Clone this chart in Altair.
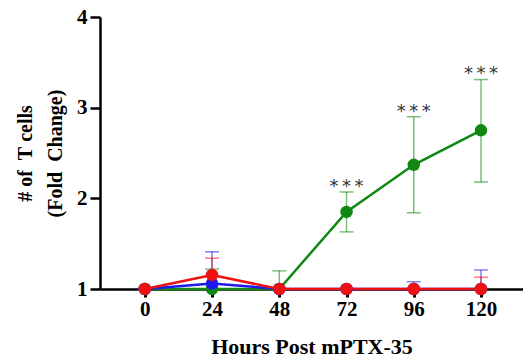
import altair as alt
import pandas as pd

hours = [0, 24, 48, 72, 96, 120]
green_mean = [1.0, 1.0, 1.0, 1.85, 2.37, 2.75]
green_up = [1.0, 1.22, 1.2, 2.07, 2.90, 3.31]
green_lo = [1.0, 1.0, 1.0, 1.63, 1.84, 2.18]
blue_mean = [1.0, 1.06, 1.0, 1.0, 1.0, 1.0]
blue_up = [1.0, 1.41, 1.0, 1.0, 1.08, 1.21]
blue_lo = [1.0, 1.0, 1.0, 1.0, 1.0, 1.0]
red_mean = [1.0, 1.155, 1.0, 1.0, 1.0, 1.0]
red_up = [1.0, 1.34, 1.0, 1.0, 1.0, 1.13]
red_lo = [1.0, 1.0, 1.0, 1.0, 1.0, 1.0]
star_hours = [72, 96, 120]
star_text = ["*\u2009*\u2009*", "*\u2009*\u2009*", "*\u2009*\u2009*"]

series = [
    ("green", "#118811", green_mean, green_up, green_lo),
    ("blue", "#1a1aee", blue_mean, blue_up, blue_lo),
    ("red", "#ee1111", red_mean, red_up, red_lo),
]

rows = []
for i, (name, col, m, u, l) in enumerate(series):
    for h, mv, uv, lv in zip(hours, m, u, l):
        rows.append({"group": name, "order": i, "h": h, "m": mv, "u": uv, "l": lv})
df = pd.DataFrame(rows)

stars = pd.DataFrame({
    "h": star_hours,
    "t": star_text,
    "m": [green_up[hours.index(h)] + 0.1 for h in star_hours],
})

xs = alt.Scale(domain=[-16, 135], nice=False, zero=False)
ys = alt.Scale(domain=[1, 4], nice=False, zero=False)

FONT = "Liberation Serif"
NB = "\u00a0"

XAX = alt.Axis(
    values=hours, title="Hours Post mPTX-35", grid=False, gridOpacity=0,
    domainColor="black", domainWidth=2.5, tickColor="black", tickWidth=3, tickSize=8,
    labelFont=FONT, labelFontSize=21, labelFontWeight="bold", labelColor="black",
    labelPadding=1, titleFont=FONT, titleFontSize=22, titleFontWeight="bold",
    titleColor="black", titlePadding=17)
YAX = alt.Axis(
    values=[1, 2, 3, 4], format="d",
    title=["#" + NB + "of" + NB + NB + "T" + NB + "cells", "(Fold" + NB + NB + "Change)"],
    grid=False, gridOpacity=0,
    domainColor="black", domainWidth=2.5, tickColor="black", tickWidth=2.5, tickSize=10,
    labelFont=FONT, labelFontSize=21, labelFontWeight="bold", labelColor="black",
    labelPadding=3, titleFont=FONT, titleFontSize=20, titleFontWeight="bold",
    titleColor="black", titlePadding=11, titleLineHeight=30)

layers = []
for i, (name, col, m, u, l) in enumerate(series):
    base = alt.Chart(df[df.group == name])
    err = base.mark_rule(color=col, strokeWidth=1.5, opacity=0.55).encode(
        x=alt.X("h:Q", scale=xs, axis=XAX), y=alt.Y("l:Q", scale=ys, axis=YAX), y2="u:Q")
    capu = base.mark_tick(color=col, thickness=1.5, size=14, orient="horizontal", opacity=0.55).encode(
        x=alt.X("h:Q", scale=xs, axis=XAX), y=alt.Y("u:Q", scale=ys, axis=YAX))
    capl = base.mark_tick(color=col, thickness=1.5, size=14, orient="horizontal", opacity=0.55).encode(
        x=alt.X("h:Q", scale=xs, axis=XAX), y=alt.Y("l:Q", scale=ys, axis=YAX))
    line = base.mark_line(color=col, strokeWidth=2.5).encode(
        x=alt.X("h:Q", scale=xs, axis=XAX), y=alt.Y("m:Q", scale=ys, axis=YAX))
    pts = base.mark_circle(color=col, size=155, opacity=1).encode(
        x=alt.X("h:Q", scale=xs, axis=XAX), y=alt.Y("m:Q", scale=ys, axis=YAX))
    layers.append((err, capu, capl, line, pts))

ordered = []
for k in range(5):
    for L in layers:
        ordered.append(L[k])

star_layer = alt.Chart(stars).mark_text(
    font="DejaVu Sans", fontSize=18, color="#333333", baseline="middle", dy=4
).encode(x=alt.X("h:Q", scale=xs, axis=XAX), y=alt.Y("m:Q", scale=ys, axis=YAX), text="t:N")

chart = alt.layer(*ordered, star_layer).properties(
    width=423, height=272,
    background="white",
    autosize=alt.AutoSizeParams(type="none"),
    padding={"left": 100, "top": 17, "right": 0, "bottom": 74},
).configure_view(stroke="transparent", strokeWidth=0).configure_axis(grid=False, gridOpacity=0)

chart.save("out.html", embed_options={"renderer": "svg", "actions": False})
